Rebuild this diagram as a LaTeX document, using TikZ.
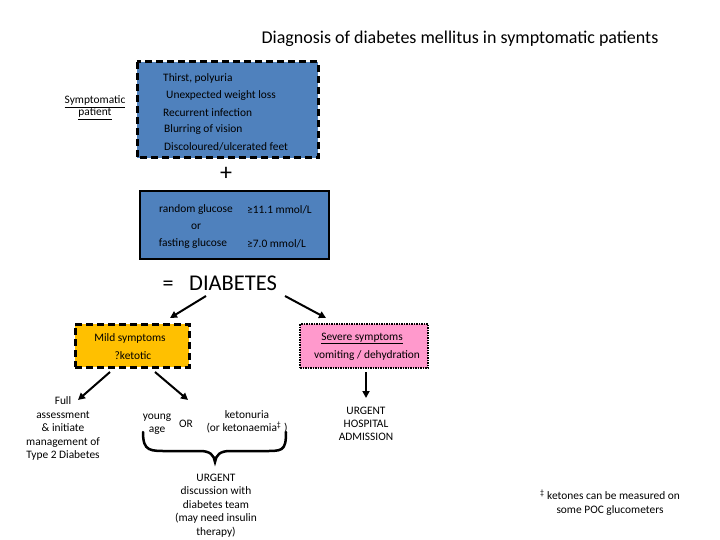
\documentclass[tikz,border=0pt]{standalone}
\usepackage{fontspec}
\setmainfont{Carlito}
\usetikzlibrary{arrows.meta}
\definecolor{boxblue}{HTML}{4F81BD}
\definecolor{boxyellow}{HTML}{FFC000}
\definecolor{boxpink}{HTML}{FF99CC}
\tikzset{
  txt/.style={font=\fontsize{11.4}{13}\selectfont, inner sep=0pt, yshift=-1.5pt},
  ctxt/.style={txt, align=center},
  arr/.style={-{Triangle[length=7pt,width=7pt]}, line width=2pt},
  dashbox/.style={line width=3pt, dash pattern=on 7pt off 4pt},
}
\begin{document}
\begin{tikzpicture}[x=1pt,y=-1pt]
\useasboundingbox (0,0) rectangle (720,540);
% title
\node[inner sep=0pt, font=\fontsize{18}{20}\selectfont] (title) at (460,39) {Diagnosis of diabetes mellitus in symptomatic patients};
% symptom box
\draw[dashbox, fill=boxblue] (137,62) rectangle (318,158);
\node[txt, anchor=west] (s1) at (163,77) {Thirst, polyuria};
\node[txt, anchor=west] (s2) at (166,94) {Unexpected weight loss};
\node[txt, anchor=west] (s3) at (163,111) {Recurrent infection};
\node[txt, anchor=west] (s4) at (164,128) {Blurring of vision};
\node[txt, anchor=west] (s5) at (164,145) {Discoloured/ulcerated feet};
\node[ctxt] (sp) at (95,106) {\underline{Symptomatic}\\[-1pt]\underline{patient}};
% plus
\node[inner sep=0pt, font=\fontsize{24}{26}\selectfont] (plus) at (226,174) {+};
% glucose box
\node[draw, line width=1.2pt, fill=boxblue, minimum width=189pt, minimum height=68pt, inner sep=0pt] (gbox) at (234.5,225) {};
\node[txt] (g1) at (196,208) {random glucose};
\node[txt, anchor=west] (g2) at (247,208) {≥11.1 mmol/L};
\node[txt] (g3) at (196,225) {or};
\node[txt] (g4) at (193,242) {fasting glucose};
\node[txt, anchor=west] (g5) at (247,242) {≥7.0 mmol/L};
% diabetes
\node[inner sep=0pt, font=\fontsize{22}{24}\selectfont] (eq) at (168,286) {=};
\node[inner sep=0pt, font=\fontsize{22.5}{24}\selectfont, anchor=west] (dia) at (189,283) {DIABETES};
\coordinate (d1) at (206,296);
\coordinate (d2) at (285,296);
% mild box
\node[dashbox, draw, fill=boxyellow, minimum width=114pt, minimum height=43pt, inner sep=0pt] (mild) at (132,345.5) {};
\node[txt] (m1) at (130,337) {Mild symptoms};
\node[txt] (m2) at (133,354) {?ketotic};
% severe box
\node[draw, line width=2.5pt, dash pattern=on 1.5pt off 1pt, fill=boxpink, minimum width=128pt, minimum height=44pt, inner sep=0pt] (sev) at (364,346) {};
\node[txt] (v1) at (362,337) {\underline{Severe symptoms}};
\node[txt] (v2) at (367,354) {vomiting / dehydration};
% arrows from diabetes
\draw[arr] (d1) -- (170,318);
\draw[arr] (d2) -- (326,318);
% bottom nodes
\node[ctxt, font=\fontsize{11.4}{13.5}\selectfont] (full) at (63,427) {Full\\assessment\\\& initiate\\management of\\Type 2 Diabetes};
\node[ctxt, font=\fontsize{11.4}{13}\selectfont] (young) at (157,422.5) {young\\age};
\node[txt] (or) at (186,422) {OR};
\node[ctxt, font=\fontsize{11.4}{13}\selectfont] (keto) at (247,420.5) {ketonuria\\(or ketonaemia\textsuperscript{‡} )};
\node[ctxt, font=\fontsize{11.4}{13.6}\selectfont] (urg) at (216,504) {URGENT\\discussion with\\diabetes team\\(may need insulin\\therapy)};
\node[ctxt, font=\fontsize{11.4}{13}\selectfont] (hosp) at (366,422) {URGENT\\HOSPITAL\\ADMISSION};
\node[ctxt, font=\fontsize{11.4}{14}\selectfont] (foot) at (610,501) {\textsuperscript{‡} ketones can be measured on\\some POC glucometers};
% arrows from mild / severe
\coordinate (sa) at (366,372);
\draw[arr] (110,372) -- (78,400);
\draw[arr] (155,372) -- (188,400);
\draw[arr] (sa) -- (366,398);
% brace
\draw[line width=2.5pt, line cap=round] (143,432) .. controls (143,452) and (150,451) .. (170,451)
  -- (200,451) .. controls (210,451) and (214,455) .. (215,462)
  .. controls (216,455) and (220,451) .. (230,451) -- (262,451)
  .. controls (282,451) and (286,452) .. (286,432);
\end{tikzpicture}
\end{document}
